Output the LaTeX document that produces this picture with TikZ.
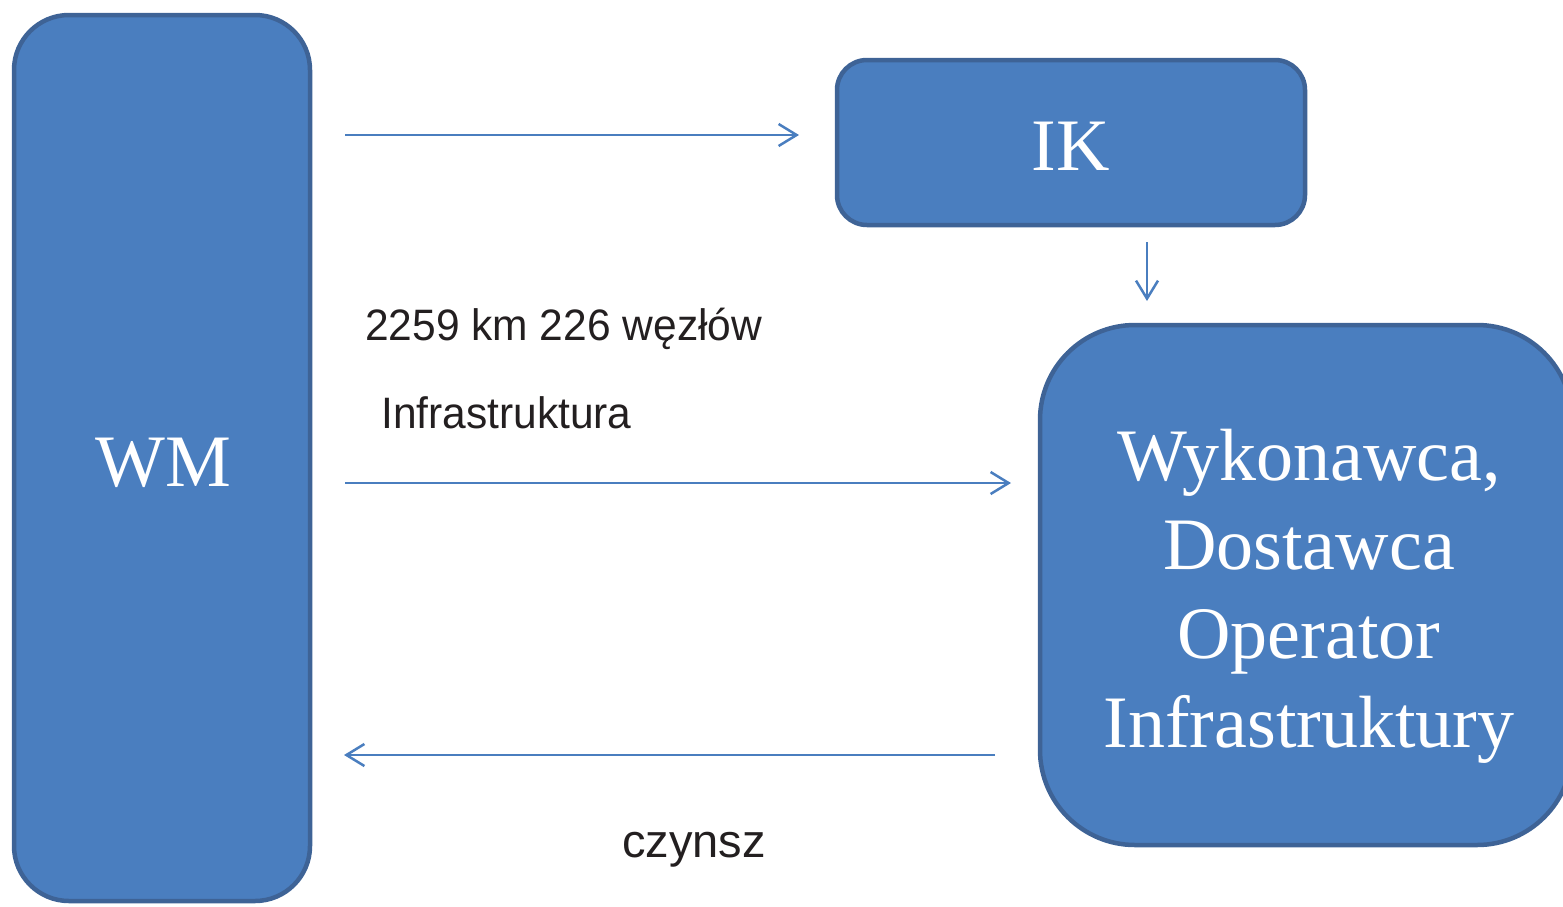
\documentclass[tikz,border=0pt]{standalone}
\usepackage{fontspec}
\setmainfont{Liberation Serif}
\newfontfamily\labelfont{Liberation Sans}
\usetikzlibrary{arrows.meta}
\definecolor{boxfill}{HTML}{4A7EBF}
\definecolor{boxline}{HTML}{3E6396}
\definecolor{arrowcol}{HTML}{4A7EBF}
\definecolor{labeltext}{HTML}{231F20}
\tikzset{
  bluebox/.style={draw=boxline, fill=boxfill, line width=4.5pt, inner sep=0pt},
  boxtext/.style={text=white, font=\fontsize{74}{89}\selectfont, align=center, inner sep=0pt},
  flow/.style={draw=arrowcol, line width=2.5pt, -{Straight Barb[length=18pt,width=22pt,line width=2.5pt]}},
  lbl/.style={text=labeltext, inner sep=0pt, anchor=base west}
}
\begin{document}
\begin{tikzpicture}[x=1pt,y=-1pt]
\useasboundingbox (0,0) rectangle (1563,906);
\clip (0,0) rectangle (1563,906);
% boxes
\node[bluebox, rounded corners=55pt, minimum width=296pt, minimum height=886pt] (wm) at (162,458) {};
\node[boxtext] (wmt) at (163,463) {WM};
\node[bluebox, rounded corners=30pt, minimum width=468pt, minimum height=165pt] (ik) at (1071,142.5) {};
\node[boxtext] (ikt) at (1071,146) {IK};
\node[bluebox, rounded corners=95pt, minimum width=532pt, minimum height=520pt] (wyk) at (1306,585) {};
\node[boxtext] (wykt) at (1309,596) {Wykonawca,\\Dostawca\\Operator\\Infrastruktury};
% connector ends
\coordinate (a1s) at (345,135);
\coordinate (a1e) at (799,135);
\coordinate (a2s) at (1147,242);
\coordinate (a2e) at (1147,301);
\coordinate (a3s) at (345,483);
\coordinate (a3e) at (1011,483);
\coordinate (a4s) at (995,755);
\coordinate (a4e) at (344,755);
\draw[flow] (a1s) -- (a1e);
\draw[flow] (a2s) -- (a2e);
\draw[flow] (a3s) -- (a3e);
\draw[flow] (a4s) -- (a4e);
% labels
\node[lbl, font=\labelfont\fontsize{44}{50}\selectfont] (km) at (365,340) {\scalebox{0.966}[1]{2259 km 226 węzłów}};
\node[lbl, font=\labelfont\fontsize{44}{50}\selectfont] (infra) at (381,428) {\scalebox{0.966}[1]{Infrastruktura}};
\node[lbl, font=\labelfont\fontsize{47}{50}\selectfont] (czynsz) at (622,857) {czynsz};
\end{tikzpicture}
\end{document}
